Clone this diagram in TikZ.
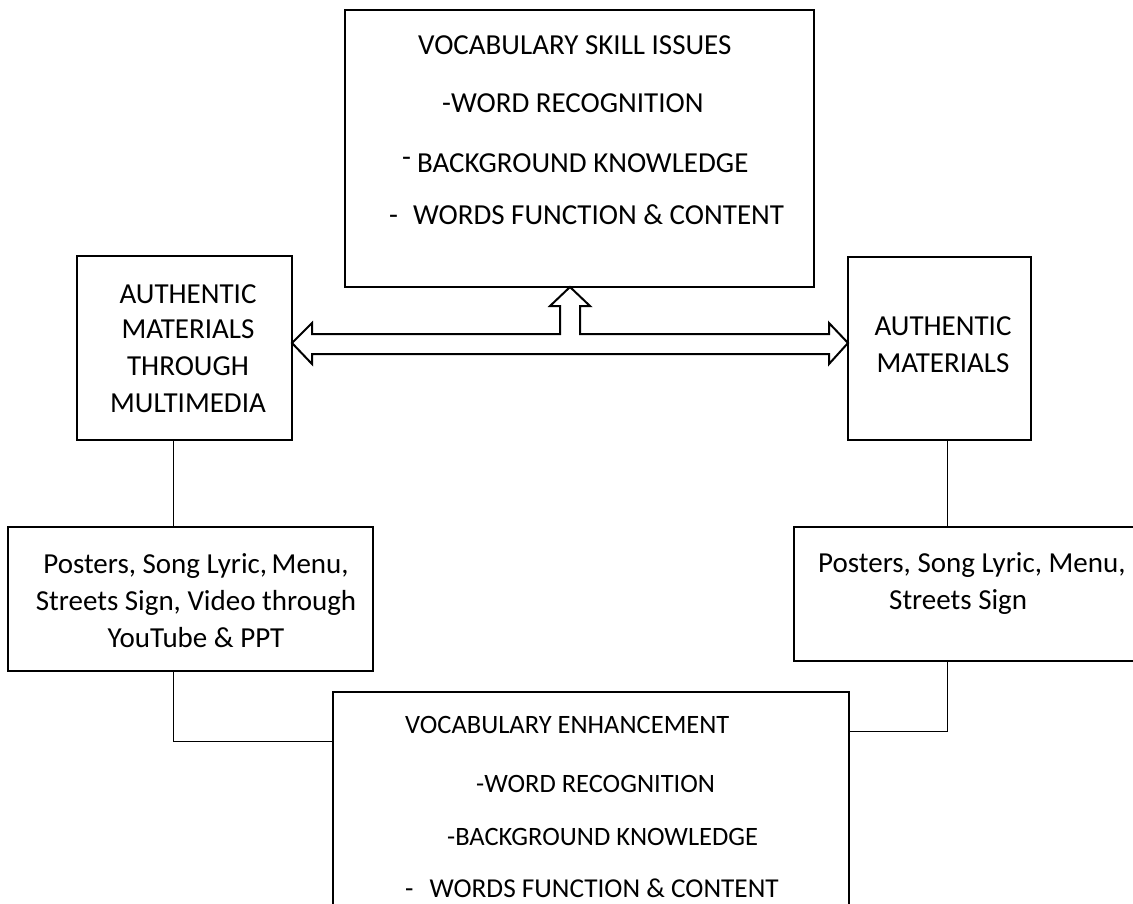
\documentclass[tikz,border=0pt]{standalone}
\usepackage{fontspec}
\setmainfont{Carlito}
\begin{document}
\begin{tikzpicture}[x=1pt,y=-1pt,
  box/.style={draw, line width=2pt, rectangle, anchor=north west, inner sep=0pt, outer sep=0pt},
  txt/.style={inner sep=0pt, font=\fontsize{29}{35}\selectfont},
  txtw/.style={txt, anchor=base west},
  txtc/.style={txt, anchor=base},
  txtb/.style={inner sep=0pt, anchor=base west, font=\fontsize{26.5}{32}\selectfont},
  link/.style={draw, line width=1pt},
  arr/.style={draw, line width=2pt, line join=miter, fill=white}]
\useasboundingbox (0,0) rectangle (1133,904);
\clip (0,0) rectangle (1133,904);

% boxes
\node[box, minimum width=469pt, minimum height=277pt] (vsi) at (345,10) {};
\node[box, minimum width=215pt, minimum height=184pt] (amL) at (77,256) {};
\node[box, minimum width=183pt, minimum height=183pt] (amR) at (848,257) {};
\node[box, minimum width=365pt, minimum height=144pt] (pL) at (8,527) {};
\node[box, minimum width=400pt, minimum height=134pt] (pR) at (794,527) {};
\node[box, minimum width=516pt, minimum height=260pt] (ve) at (333,692) {};

% top box text
\node[txtw] (t1) at (418,55) {VOCABULARY SKILL ISSUES};
\node[txtw] (t2) at (442,113) {-WORD RECOGNITION};
\node[txtw] (t3) at (402,173) {\raisebox{6pt}{-}\kern 6pt BACKGROUND KNOWLEDGE};
\node[txtw] (t4) at (389,225) {-\kern 15pt WORDS FUNCTION \& CONTENT};

% left box text
\node[txtc] (l1) at (188,303) {AUTHENTIC};
\node[txtc] (l2) at (188,338) {MATERIALS};
\node[txtc] (l3) at (188,375) {THROUGH};
\node[txtc] (l4) at (188,412) {MULTIMEDIA};

% right box text
\node[txtc] (r1) at (943,335) {AUTHENTIC};
\node[txtc] (r2) at (943,372) {MATERIALS};

% left lower box text
\node[txtc] (pl1) at (196,573) {Posters, Song Lyric,\kern -2pt{} Menu,};
\node[txtc] (pl2) at (196,610) {Streets Sign, Video through};
\node[txtc] (pl3) at (196,647) {YouTube \& PPT};

% right lower box text
\node[txtw] (pr1) at (818,572) {Posters, Song Lyric, Menu,};
\node[txtw] (pr2) at (889,609) {Streets Sign};

% bottom box text
\node[txtb] (b1) at (405,733) {VOCABULARY ENHANCEMENT};
\node[txtb] (b2) at (476,792) {-WORD RECOGNITION};
\node[txtb] (b3) at (447,845) {-BACKGROUND KNOWLEDGE};
\node[txtb, font=\fontsize{27.3}{32}\selectfont] (b4) at (405,897) {-\kern 16pt WORDS FUNCTION \& CONTENT};

% connectors
\coordinate (cL) at (173,0);
\coordinate (cR) at (947,0);
\coordinate (jL) at (0,741);
\coordinate (jR) at (0,731);
\draw[link] (amL.south -| cL) -- (pL.north -| cL);
\draw[link] (pL.south -| cL) |- (ve.west |- jL);
\draw[link] (amR.south -| cR) -- (pR.north -| cR);
\draw[link] (pR.south -| cR) |- (ve.east |- jR);

% block double arrow with upward branch
\coordinate (tipL) at (amL.east |- 0,343);
\coordinate (tipR) at (amR.west |- 0,343);
\coordinate (tipU) at (vsi.south -| 570,0);
\draw[arr] (tipL) -- (312,323) -- (312,334) -- (560,334) -- (560,306) -- (550,306)
  -- (tipU) -- (590,306) -- (580,306) -- (580,334) -- (829,334) -- (829,323)
  -- (tipR) -- (829,364) -- (829,354) -- (312,354) -- (312,364) -- cycle;
\end{tikzpicture}
\end{document}
